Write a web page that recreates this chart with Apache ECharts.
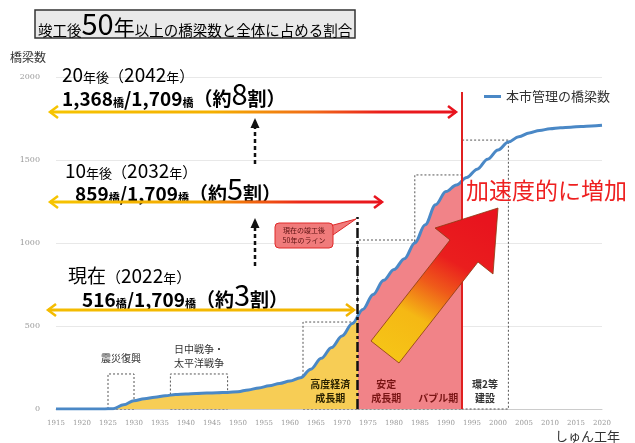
<!DOCTYPE html>
<html><head><meta charset="utf-8">
<script src="https://cdn.jsdelivr.net/npm/echarts@6/dist/echarts.min.js"></script>
<style>html,body{margin:0;padding:0;background:#fff}#c{width:635px;height:443px}</style>
</head><body><div id="c"></div>
<script>
// ---- data ----
const years   = [1915,1920,1924,1926,1928,1930,1932,1934,1936,1938,1940,1942,1944,1946,1948,1950,1952,1954,1956,1958,1960,1962,1964,1966,1968,1970,1972,1974,1976,1978,1980,1982,1984,1986,1988,1990,1992,1994,1996,1998,2000,2002,2004,2006,2008,2010,2012,2014,2016,2018,2020];
const bridges = [0,0,0,2,25,50,62,71,80,87,91,94,96,98,100,104,115,127,140,154,168,188,240,305,370,440,515,600,690,775,840,905,1000,1110,1230,1310,1350,1395,1445,1505,1560,1608,1640,1663,1678,1688,1694,1698,1702,1705,1709];
const seriesName = '本市管理の橋梁数';
const yTicks = [0, 500, 1000, 1500, 2000];
const line50Now = 1973;   // 現在の竣工後50年のライン
const line50In20 = 1993;  // 20年後
// period boxes
const periodStart = [1925, 1937, 1962.5, 1973, 1984, 1993];
const periodEnd   = [1930, 1948, 1973, 1984, 1993, 2002];
const periodTop   = [211, 211, 524, 1018, 1410, 1620];
const periodLabel = ['震災復興', '日中戦争・\n太平洋戦争', '高度経済\n成長期', '安定\n成長期', 'バブル期', '環2等\n建設'];

const F = '"Noto Sans CJK JP","Noto Sans",sans-serif';
const data = years.map((y, i) => [y, bridges[i]]);

const labelColors = ['#333', '#333', '#2a2200', '#7a1515', '#7a1515', '#333'];
const markAreaData = periodStart.map((s, i) => {
  const inside = i >= 2;
  return [{
    xAxis: s, yAxis: 0,
    label: {
      show: true, formatter: periodLabel[i],
      position: inside ? 'insideBottom' : 'top',
      distance: inside ? 4 : (i === 0 ? 8 : 3),
      fontSize: 10, lineHeight: 14, color: labelColors[i], fontFamily: F, fontWeight: inside ? 'bold' : 'normal'
    }
  }, { xAxis: periodEnd[i], yAxis: periodTop[i] }];
});

function hArrow(x1, x2, y, stops, leftColor, rightColor) {
  return [
    { type: 'rect', shape: { x: x1 + 1, y: y - 1.5, width: x2 - x1 - 2, height: 3 },
      style: { fill: { type: 'linear', x: 0, y: 0, x2: 1, y2: 0, colorStops: stops } } },
    { type: 'polyline', shape: { points: [[x1 + 9, y - 6], [x1 + 1, y], [x1 + 9, y + 6]] },
      style: { stroke: leftColor, lineWidth: 2.5, fill: null } },
    { type: 'polyline', shape: { points: [[x2 - 9, y - 6], [x2 - 1, y], [x2 - 9, y + 6]] },
      style: { stroke: rightColor, lineWidth: 2.5, fill: null } }
  ];
}
function vArrow(x, yTop, yBot) {
  return [
    { type: 'line', shape: { x1: x, y1: yBot, x2: x, y2: yTop + 8 }, style: { stroke: '#111', lineWidth: 2.5, lineDash: [4, 3] } },
    { type: 'polygon', shape: { points: [[x - 4.5, yTop + 10], [x, yTop], [x + 4.5, yTop + 10]] }, style: { fill: '#111' } }
  ];
}
const big = { fontSize: 19, fontFamily: F, color: '#222', verticalAlign: 'bottom', lineHeight: 24 };
const sm = { fontSize: 13, fontFamily: F, color: '#222', verticalAlign: 'bottom', lineHeight: 21 };
const par = { fontSize: 15, fontFamily: F, color: '#222', verticalAlign: 'bottom', lineHeight: 22 };
const num = { fontSize: 19, fontFamily: F, color: '#222', fontWeight: 'bold', verticalAlign: 'bottom', lineHeight: 25 };
const hashi = { fontSize: 11, fontFamily: F, color: '#222', fontWeight: 'bold', verticalAlign: 'bottom', lineHeight: 21 };
const red = { fontSize: 29, fontFamily: F, color: '#ee1c1c', verticalAlign: 'bottom', lineHeight: 30 };
const richA = { b: big, s: sm, p: par, n: num, h: hashi, r: red };

function annot(x, y1, l1, x2, y2, l2) {
  return [
    { type: 'text', x: x, y: y1, style: { text: l1, rich: richA, verticalAlign: 'middle' } },
    { type: 'text', x: x2, y: y2, style: { text: l2, rich: richA, verticalAlign: 'middle' } }
  ];
}

const graphics = [
  { type: 'rect', shape: { x: 35, y: 10, width: 320, height: 28 }, style: { fill: '#e9e9e9', stroke: '#333', lineWidth: 1.5 } },
  { type: 'text', x: 38, y: 23, style: { verticalAlign: 'middle',
      text: '{a|竣工後}{b|50}{c|年}{a|以上の橋梁数と全体に占める割合}',
      rich: {
        a: { fontSize: 14.5, fontFamily: F, color: '#2b2b3a', verticalAlign: 'bottom', lineHeight: 24 },
        b: { fontSize: 29, fontFamily: F, color: '#222', verticalAlign: 'bottom', lineHeight: 30 },
        c: { fontSize: 21, fontFamily: F, color: '#222', verticalAlign: 'bottom', lineHeight: 26 }
      } } },
  { type: 'text', x: 10, y: 57, style: { text: '橋梁数', fontSize: 12, fontFamily: F, fill: '#333', verticalAlign: 'middle' } },
  { type: 'text', x: 555, y: 436, style: { text: 'しゅん工年', fontSize: 13, fontFamily: F, fill: '#333', verticalAlign: 'middle' } },
  ...annot(62, 72, '{b|20}{s|年後}{p|（}{b|2042}{s|年}{p|）}', 62, 93, '{n|1,368}{h|橋}{n|/1,709}{h|橋}{n|（約}{r|8}{n|割）}'),
  ...annot(65, 168, '{b|10}{s|年後}{p|（}{b|2032}{s|年}{p|）}', 75, 188, '{n|859}{h|橋}{n|/1,709}{h|橋}{n|（約}{r|5}{n|割）}'),
  ...annot(68, 273, '{b|現在}{p|（}{b|2022}{s|年}{p|）}', 82, 294, '{n|516}{h|橋}{n|/1,709}{h|橋}{n|（約}{r|3}{n|割）}'),
  ...hArrow(49, 457, 112, [{ offset: 0, color: '#f6c400' }, { offset: 0.4, color: '#f4b000' }, { offset: 0.65, color: '#f06a18' }, { offset: 0.82, color: '#ea1c1c' }, { offset: 1, color: '#e8141e' }], '#f6c400', '#e8141e'),
  ...hArrow(49, 383, 202, [{ offset: 0, color: '#f6c400' }, { offset: 0.45, color: '#f4a800' }, { offset: 0.75, color: '#ec2a1a' }, { offset: 1, color: '#e8141e' }], '#f6c400', '#e8141e'),
  ...hArrow(47, 355, 310, [{ offset: 0, color: '#f4bc00' }, { offset: 1, color: '#f2b400' }], '#f4bc00', '#f2b400'),
  ...vArrow(255, 118, 164),
  ...vArrow(255, 218, 266),
  { type: 'polygon', shape: { points: [[322, 228], [330, 237], [356, 219]] }, style: { fill: '#f07b7b', stroke: '#e02a2a', lineWidth: 1 } },
  { type: 'rect', shape: { x: 275, y: 223, width: 58, height: 25, r: 4 }, style: { fill: '#f07b7b', stroke: '#e02a2a', lineWidth: 1 } },
  { type: 'text', x: 304, y: 235.5, style: { text: '現在の竣工後\n50年のライン', fontSize: 7, lineHeight: 10, fontFamily: F, fill: '#5a1010', align: 'center', verticalAlign: 'middle' } },
  { type: 'polygon', shape: { points: [[371, 341], [450, 240], [435, 228], [498, 208], [493, 274], [478, 262], [399, 363]] },
    style: { stroke: '#8a3a10', lineWidth: 0.8,
      fill: { type: 'linear', x: 0, y: 1, x2: 0.7, y2: 0, colorStops: [{ offset: 0, color: '#f6c818' }, { offset: 0.35, color: '#f5b814' }, { offset: 0.55, color: '#ef5a1a' }, { offset: 0.72, color: '#ea1e1e' }, { offset: 1, color: '#e8141e' }] } } },
  { type: 'text', x: 466, y: 190, style: { text: '加速度的に増加', fontSize: 23, fontFamily: F, fill: '#ee2020', verticalAlign: 'middle' } }
];
graphics.forEach(g => { g.z = 100; });

const chart = echarts.init(document.getElementById('c'));
chart.setOption({
  animation: false,
  backgroundColor: '#fff',
  grid: { left: 56, right: 33, top: 77, bottom: 34 },
  legend: { data: [seriesName], left: 479, top: 85, icon: 'rect', itemWidth: 17, itemHeight: 3,
    textStyle: { fontSize: 13, fontFamily: F, color: '#333' } },
  xAxis: { type: 'value', min: 1915, max: 2020, interval: 5,
    axisLine: { lineStyle: { color: '#ccc' } }, axisTick: { show: false }, splitLine: { show: false },
    axisLabel: { fontSize: 7, color: '#999', margin: 11, fontFamily: '"DejaVu Serif",serif', formatter: v => String(v) } },
  yAxis: { type: 'value', min: yTicks[0], max: yTicks[yTicks.length - 1], interval: 500,
    axisLine: { show: false }, axisTick: { show: false },
    splitLine: { lineStyle: { color: '#e8e8e8' } },
    axisLabel: { fontSize: 8, color: '#999', margin: 16, fontFamily: '"DejaVu Serif",serif', formatter: v => String(v) } },
  visualMap: { type: 'piecewise', show: false, dimension: 0, seriesIndex: 0,
    pieces: [{ lt: line50Now, color: '#f7cd55' }, { gte: line50Now, lt: line50In20, color: '#f18388' }],
    outOfRange: { color: 'rgba(255,255,255,0)' } },
  series: [
    { name: 'area', type: 'line', data: data, smooth: 0.35, smoothMonotone: 'x', showSymbol: false, silent: true,
      lineStyle: { width: 0 }, areaStyle: { opacity: 1 }, z: 1 },
    { name: seriesName, type: 'line', data: data, smooth: 0.35, smoothMonotone: 'x', showSymbol: false,
      lineStyle: { color: '#4a88c6', width: 3 }, itemStyle: { color: '#4a88c6' }, z: 3,
      markArea: { silent: true, itemStyle: { color: 'rgba(0,0,0,0)', borderColor: '#555', borderWidth: 1, borderType: [2, 2] },
        data: markAreaData },
      markLine: { silent: true, symbol: ['none', 'none'], label: { show: false },
        data: [
          [{ coord: [line50Now, 0], lineStyle: { color: '#111', width: 2.5, type: [10, 3, 3, 3] } }, { coord: [line50Now, 1157] }],
          [{ coord: [line50In20, 0], lineStyle: { color: '#e02020', width: 2, type: 'solid' } }, { coord: [line50In20, 1910] }]
        ] } }
  ],
  graphic: graphics
});
</script></body></html>
